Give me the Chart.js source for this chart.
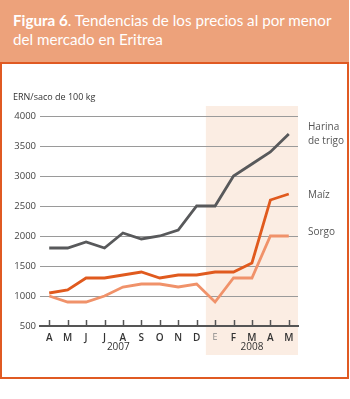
<!DOCTYPE html>
<html>
<head>
<meta charset="utf-8">
<script src="https://cdn.jsdelivr.net/npm/chart.js@4.4.0/dist/chart.umd.min.js"></script>
<style>
  body { margin: 0; width: 350px; height: 399px; background: #fff; position: relative; overflow: hidden; font-family: "Open Sans", sans-serif; }
  .title { position: absolute; left: 0; top: 0; width: 349px; height: 62px; background: #eda27b; color: #fff; white-space: nowrap;
           font-family: Lato, sans-serif; font-size: 15.2px; line-height: 19px; box-sizing: border-box; padding: 11px 0 0 13px; }
  .box { position: absolute; left: 0; top: 62px; width: 349px; height: 317px; border: 2px solid #e05a23; box-sizing: border-box; }
  canvas { position: absolute; left: 0; top: 0; }
</style>
</head>
<body>
<div class="title"><b>Figura 6</b>. Tendencias de los precios al por menor<br>del mercado en Eritrea</div>
<div class="box"></div>
<canvas id="chart" width="350" height="399"></canvas>
<script>
const months = ['A', 'M', 'J', 'J', 'A', 'S', 'O', 'N', 'D', 'E', 'F', 'M', 'A', 'M'];
const years = ['2007', '2008'];
const harina = [1800, 1800, 1900, 1800, 2050, 1950, 2000, 2100, 2500, 2500, 3000, 3200, 3400, 3700];
const maiz = [1050, 1100, 1300, 1300, 1350, 1400, 1300, 1350, 1350, 1400, 1400, 1550, 2600, 2700];
const sorgo = [1000, 900, 900, 1000, 1150, 1200, 1200, 1150, 1200, 900, 1300, 1300, 2000, 2000];
const seriesNames = [['Harina', 'de trigo'], ['Maíz'], ['Sorgo']];
const yTicks = [500, 1000, 1500, 2000, 2500, 3000, 3500, 4000];

const font = '"Open Sans", sans-serif';

// shaded 2008 block, tick marks, year labels, series names
const decor = {
  id: 'decor',
  beforeDraw(chart) {
    const ctx = chart.ctx;
    const x = chart.scales.x;
    const a = chart.chartArea;
    const x0 = (x.getPixelForValue(8) + x.getPixelForValue(9)) / 2;
    ctx.save();
    ctx.fillStyle = '#fbede3';
    ctx.fillRect(x0, a.top - 10, a.right - x0, a.bottom - a.top + 39);
    ctx.restore();
  },
  afterDraw(chart) {
    const ctx = chart.ctx;
    const x = chart.scales.x;
    const a = chart.chartArea;
    ctx.save();
    ctx.strokeStyle = '#555';
    ctx.lineWidth = 1.5;
    months.forEach((m, i) => {
      const px = Math.round(x.getPixelForValue(i)) + 0.5;
      ctx.beginPath();
      ctx.moveTo(px, a.bottom);
      ctx.lineTo(px, a.bottom - 6);
      ctx.stroke();
    });
    ctx.fillStyle = '#333';
    ctx.font = '10px ' + font;
    ctx.textAlign = 'center';
    ctx.textBaseline = 'middle';
    ctx.fillText(years[0], x.getPixelForValue(3.75), a.bottom + 21);
    ctx.fillText(years[1], x.getPixelForValue(11), a.bottom + 21);

    ctx.textAlign = 'left';
    ctx.font = '9px ' + font;
    ctx.fillText('ERN/saco de 100 kg', 13, 97);

    ctx.fillStyle = '#555';
    ctx.font = '10px ' + font;
    const offsets = [0, 1, -4];
    chart.data.datasets.forEach((ds, k) => {
      const pt = chart.getDatasetMeta(k).data[months.length - 1];
      const lines = seriesNames[k];
      lines.forEach((t, j) => {
        ctx.fillText(t, a.right + 10, pt.y + offsets[k] + (j - (lines.length - 1) / 2) * 14);
      });
    });
    ctx.restore();
  }
};

new Chart(document.getElementById('chart'), {
  type: 'line',
  data: {
    labels: months,
    datasets: [
      { data: harina, borderColor: '#58595b', borderWidth: 2.8 },
      { data: maiz, borderColor: '#e05a1e', borderWidth: 2.8 },
      { data: sorgo, borderColor: '#f0926a', borderWidth: 2.8 }
    ]
  },
  options: {
    responsive: false,
    animation: false,
    events: [],
    layout: { padding: { left: 0, right: 52, top: 116, bottom: 43 } },
    elements: { point: { radius: 0 }, line: { tension: 0, borderCapStyle: 'butt', borderJoinStyle: 'miter' } },
    plugins: { legend: { display: false }, tooltip: { enabled: false } },
    scales: {
      x: {
        offset: true,
        grid: { display: false },
        border: { display: true, color: '#555', width: 2 },
        ticks: {
          padding: -2, maxRotation: 0, autoSkip: false,
          color: c => (c.index === 9 ? '#888' : '#333'),
          font: c => ({ family: font, size: c.index === 9 ? 9 : 10, weight: c.index === 9 ? '400' : '600' })
        },
        afterFit(s) { s.height = 30; }
      },
      y: {
        min: 500,
        max: 4000,
        afterBuildTicks(s) { s.ticks = yTicks.map(v => ({ value: v })); },
        grid: { color: '#9a9a9a', lineWidth: 1, drawTicks: false },
        border: { display: false },
        ticks: { padding: 4, color: '#444', font: { family: font, size: 9.5 }, callback: v => String(v) },
        afterFit(s) { s.width = 40; }
      }
    }
  },
  plugins: [decor]
});
</script>
</body>
</html>
